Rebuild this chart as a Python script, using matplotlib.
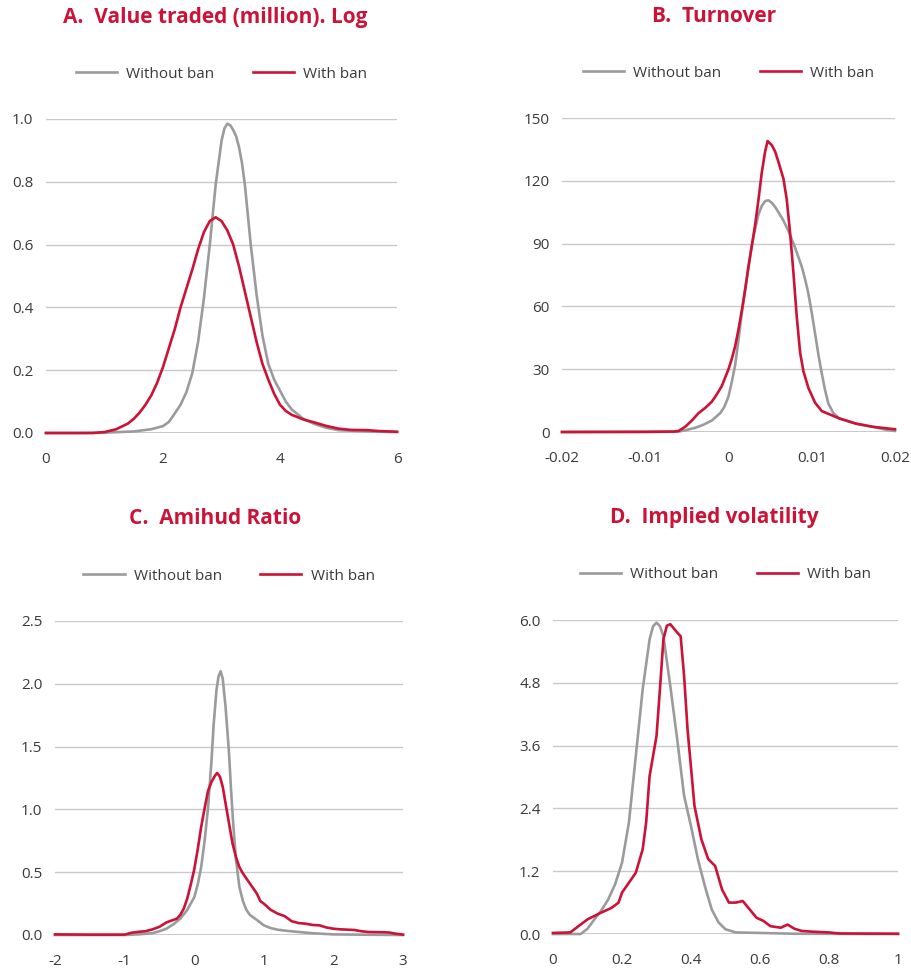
import matplotlib
matplotlib.use("Agg")
import matplotlib.pyplot as plt

plt.rcParams['font.family'] = ['Open Sans', 'DejaVu Sans']

RED = '#CC1237'
GREY = '#9b9b9b'
TXT = '#3a3a3a'

# A. Value traded (million). Log
a_x_wo = [0, 0.5, 1.0, 1.5, 1.8, 2.0, 2.1, 2.2, 2.3, 2.4, 2.5, 2.6, 2.7, 2.8, 2.9, 3.0, 3.05, 3.1,
          3.15, 3.2, 3.25, 3.3, 3.35, 3.4, 3.5, 3.6, 3.7, 3.8, 3.9, 4.0, 4.1, 4.2, 4.4, 4.6, 4.8, 5.0, 5.5, 6.0]
a_y_wo = [0, 0, 0.001, 0.005, 0.012, 0.022, 0.035, 0.062, 0.09, 0.13, 0.19, 0.29, 0.43, 0.60, 0.79, 0.93, 0.97, 0.985,
          0.98, 0.965, 0.945, 0.91, 0.86, 0.79, 0.60, 0.44, 0.31, 0.22, 0.17, 0.135, 0.10, 0.075, 0.045, 0.028, 0.016, 0.009, 0.005, 0.003]
a_x_w = [0, 0.8, 1.0, 1.2, 1.4, 1.5, 1.6, 1.7, 1.8, 1.9, 2.0, 2.1, 2.2, 2.3, 2.4, 2.5, 2.6, 2.7, 2.8, 2.9,
         3.0, 3.1, 3.2, 3.3, 3.4, 3.5, 3.6, 3.7, 3.8, 3.9, 4.0, 4.1, 4.2, 4.4, 4.6, 4.8, 5.0, 5.2, 5.5, 5.7, 6.0]
a_y_w = [0, 0, 0.003, 0.012, 0.03, 0.045, 0.065, 0.09, 0.12, 0.16, 0.21, 0.27, 0.33, 0.40, 0.46, 0.52, 0.585, 0.64, 0.675, 0.687,
         0.675, 0.645, 0.60, 0.53, 0.45, 0.37, 0.29, 0.22, 0.17, 0.125, 0.09, 0.07, 0.058, 0.043, 0.033, 0.022, 0.014, 0.01, 0.009, 0.006, 0.004]

# B. Turnover
b_x_wo = [-0.02, -0.01, -0.006, -0.005, -0.004, -0.003, -0.002, -0.001, -0.0005, 0.0, 0.0004, 0.0008, 0.0012,
          0.0016, 0.002, 0.0024, 0.0028, 0.0032, 0.0036, 0.004, 0.0044, 0.0048, 0.0052, 0.0056, 0.006, 0.0066, 0.0072, 0.008,
          0.0088, 0.0092, 0.0096, 0.01, 0.0104, 0.0108, 0.0112, 0.0116, 0.012, 0.0126, 0.0133, 0.0153, 0.0173, 0.019, 0.02]
b_y_wo = [0, 0, 0.2, 1, 2, 3.5, 5.5, 9, 12, 17, 24, 32, 44,
          57, 68, 79, 89, 97, 104, 108, 110.3, 110.7, 109.5, 107.5, 105, 101, 96, 88,
          79, 73, 66, 57, 47, 37, 28, 20, 13.5, 9, 6.5, 4, 2.5, 1, 0.5]
b_x_w = [-0.02, -0.01, -0.0065, -0.006, -0.0052, -0.0044, -0.0036, -0.0028, -0.002, -0.0014, -0.0008, -0.0004,
         0.0, 0.0004, 0.0008, 0.0012, 0.0016, 0.002, 0.0024, 0.0028, 0.0032, 0.0036, 0.004, 0.0044, 0.0047,
         0.0052, 0.0056, 0.006, 0.0066, 0.007, 0.0074, 0.0078, 0.0082, 0.0086, 0.009, 0.0096, 0.0104, 0.0112,
         0.0133, 0.0153, 0.0173, 0.02]
b_y_w = [0, 0.1, 0.2, 0.5, 2.5, 5.5, 9, 11.5, 14.5, 18, 22, 26,
         30, 35, 41, 49, 58, 68, 79, 89, 99, 111, 124, 134, 139,
         137, 134, 129, 121, 111, 95, 76, 55, 38, 29, 21, 14, 10,
         6.5, 4, 2.5, 1.3]

# C. Amihud Ratio
c_x_wo = [-2, -1, -0.8, -0.6, -0.5, -0.4, -0.3, -0.2, -0.1, 0.0, 0.05, 0.1, 0.15, 0.2, 0.25, 0.28, 0.32, 0.35,
          0.38, 0.41, 0.45, 0.5, 0.53, 0.56, 0.6, 0.65, 0.7, 0.75, 0.8, 0.9, 1.0, 1.1, 1.2, 1.35, 1.5, 1.7, 2.0, 2.5, 3.0]
c_y_wo = [0, 0, 0.005, 0.015, 0.03, 0.05, 0.085, 0.13, 0.2, 0.3, 0.4, 0.54, 0.75, 1.02, 1.4, 1.68, 1.95, 2.06,
          2.1, 2.04, 1.82, 1.45, 1.15, 0.89, 0.6, 0.38, 0.27, 0.2, 0.16, 0.12, 0.077, 0.055, 0.042, 0.032, 0.024, 0.014, 0.005, 0.002, 0]
c_x_w = [-2, -1.5, -1.0, -0.9, -0.8, -0.7, -0.6, -0.5, -0.4, -0.3, -0.25, -0.2, -0.15, -0.1, -0.05, 0.0, 0.05,
         0.1, 0.15, 0.2, 0.25, 0.3, 0.33, 0.37, 0.41, 0.45, 0.5, 0.55, 0.6, 0.65, 0.7, 0.8, 0.9, 0.95, 1.0,
         1.1, 1.2, 1.3, 1.4, 1.5, 1.6, 1.7, 1.8, 1.9, 2.0, 2.1, 2.3, 2.4, 2.5, 2.7, 2.8, 2.9, 3.0]
c_y_w = [0.005, 0.003, 0.003, 0.018, 0.025, 0.03, 0.045, 0.065, 0.1, 0.12, 0.13, 0.16, 0.21, 0.29, 0.4, 0.52, 0.68,
         0.86, 1.01, 1.15, 1.22, 1.27, 1.29, 1.26, 1.18, 1.05, 0.89, 0.73, 0.62, 0.54, 0.49, 0.41, 0.33, 0.27, 0.25,
         0.2, 0.17, 0.15, 0.11, 0.095, 0.09, 0.08, 0.077, 0.06, 0.05, 0.045, 0.04, 0.03, 0.024, 0.022, 0.02, 0.01, 0.003]

# D. Implied volatility
d_x_wo = [0, 0.08, 0.1, 0.12, 0.14, 0.16, 0.18, 0.2, 0.22, 0.24, 0.26, 0.28, 0.29, 0.3, 0.31, 0.32, 0.34, 0.36, 0.38,
          0.4, 0.42, 0.44, 0.46, 0.48, 0.5, 0.53, 0.6, 0.7, 1.0]
d_y_wo = [0, 0, 0.1, 0.28, 0.45, 0.66, 0.95, 1.36, 2.13, 3.4, 4.68, 5.63, 5.88, 5.95, 5.88, 5.69, 4.74, 3.72, 2.64,
          2.06, 1.43, 0.92, 0.47, 0.22, 0.09, 0.03, 0.02, 0.005, 0]
d_x_w = [0, 0.05, 0.08, 0.1, 0.14, 0.17, 0.19, 0.2, 0.24, 0.26, 0.27, 0.28, 0.3, 0.31, 0.32, 0.33, 0.34,
         0.36, 0.37, 0.38, 0.39, 0.41, 0.43, 0.45, 0.47, 0.49, 0.51, 0.53, 0.55, 0.57, 0.59, 0.61, 0.63,
         0.66, 0.68, 0.7, 0.72, 0.75, 0.8, 0.83, 1.0]
d_y_w = [0.02, 0.03, 0.18, 0.28, 0.41, 0.5, 0.6, 0.79, 1.17, 1.62, 2.13, 3.02, 3.78, 4.68, 5.63, 5.89, 5.92,
         5.76, 5.69, 4.93, 3.91, 2.45, 1.81, 1.43, 1.3, 0.85, 0.6, 0.6, 0.63, 0.47, 0.31, 0.25, 0.15,
         0.12, 0.18, 0.1, 0.06, 0.045, 0.03, 0.01, 0.005]

panels = [
    dict(title='A.  Value traded (million). Log', rect=[46, 119, 397, 433], tx=215,
         wo=(a_x_wo, a_y_wo), w=(a_x_w, a_y_w), xlim=(0, 6), ylim=(0, 1.0),
         xt=[0, 2, 4, 6], xl=['0', '2', '4', '6'],
         yt=[0, 0.2, 0.4, 0.6, 0.8, 1.0], yl=['0.0', '0.2', '0.4', '0.6', '0.8', '1.0']),
    dict(title='B.  Turnover', rect=[562, 118, 895, 432], tx=714,
         wo=(b_x_wo, b_y_wo), w=(b_x_w, b_y_w), xlim=(-0.02, 0.02), ylim=(0, 150),
         xt=[-0.02, -0.01, 0, 0.01, 0.02], xl=['-0.02', '-0.01', '0', '0.01', '0.02'],
         yt=[0, 30, 60, 90, 120, 150], yl=['0', '30', '60', '90', '120', '150']),
    dict(title='C.  Amihud Ratio', rect=[55, 621, 403, 935], tx=215,
         wo=(c_x_wo, c_y_wo), w=(c_x_w, c_y_w), xlim=(-2, 3), ylim=(0, 2.5),
         xt=[-2, -1, 0, 1, 2, 3], xl=['-2', '-1', '0', '1', '2', '3'],
         yt=[0, 0.5, 1.0, 1.5, 2.0, 2.5], yl=['0.0', '0.5', '1.0', '1.5', '2.0', '2.5']),
    dict(title='D.  Implied volatility', rect=[553, 620, 898, 934], tx=714,
         wo=(d_x_wo, d_y_wo), w=(d_x_w, d_y_w), xlim=(0, 1), ylim=(0, 6.0),
         xt=[0, 0.2, 0.4, 0.6, 0.8, 1.0], xl=['0', '0.2', '0.4', '0.6', '0.8', '1'],
         yt=[0, 1.2, 2.4, 3.6, 4.8, 6.0], yl=['0.0', '1.2', '2.4', '3.6', '4.8', '6.0']),
]

W, H = 911, 974
fig = plt.figure(figsize=(W / 100, H / 100), dpi=100)

for p in panels:
    l, t, r, b = p['rect']
    ax = fig.add_axes([l / W, 1 - b / H, (r - l) / W, (b - t) / H])
    for s in ax.spines.values():
        s.set_visible(False)
    ax.set_xlim(*p['xlim'])
    ax.set_ylim(*p['ylim'])
    ax.set_yticks(p['yt'])
    ax.set_yticklabels(p['yl'])
    ax.set_xticks(p['xt'])
    ax.set_xticklabels(p['xl'])
    ax.tick_params(length=0, labelsize=11, colors=TXT)
    ax.tick_params(axis='y', pad=9)
    ax.tick_params(axis='x', pad=14)
    ax.grid(axis='y', color='#c9c9c9', lw=1.0)
    ax.set_axisbelow(True)
    ax.axhline(0, color='#1a1a1a', lw=1.0, zorder=1)
    ax.plot(*p['wo'], color=GREY, lw=1.9, label='Without ban', zorder=3, clip_on=False,
            solid_joinstyle='round')
    ax.plot(*p['w'], color=RED, lw=1.9, label='With ban', zorder=4, clip_on=False,
            solid_joinstyle='round')
    leg = ax.legend(loc='center', bbox_to_anchor=(0.5, 1 + 45 / (b - t)), ncol=2, frameon=False,
                    fontsize=11, handlelength=2.7, handletextpad=0.6, columnspacing=2.5)
    for txt in leg.get_texts():
        txt.set_color(TXT)
    fig.text(p['tx'] / W, 1 - (t - 102) / H, p['title'], ha='center', va='center',
             fontsize=15, fontweight='bold', color=RED)

fig.savefig('out.png', dpi=100)
